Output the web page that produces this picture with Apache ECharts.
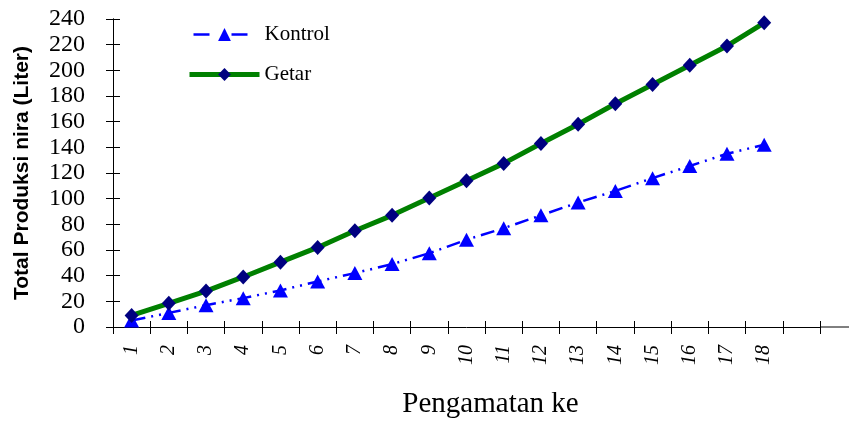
<!DOCTYPE html>
<html>
<head>
<meta charset="utf-8">
<script src="https://cdn.jsdelivr.net/npm/echarts@6/dist/echarts.min.js"></script>
<style>
  html, body { margin: 0; padding: 0; background: #fff; }
  #chart { width: 849px; height: 421px; }
</style>
</head>
<body>
<div id="chart"></div>
<script>
// data
var categories = ['1','2','3','4','5','6','7','8','9','10','11','12','13','14','15','16','17','18',''];
var kontrol = [5, 11, 17, 22.5, 28.5, 35.5, 42, 49, 57.5, 68, 77, 87, 97, 106, 116, 125.5, 135, 142];
var getar = [9, 18.5, 28, 39, 50.5, 62, 75, 87, 100.5, 114, 127.5, 143, 158, 174, 189, 204, 219, 237];
var yTicks = { min: 0, max: 240, interval: 20 };

var serif = 'Liberation Serif';
var myChart = echarts.init(document.getElementById('chart'));

var yBase = {
  type: 'value',
  min: yTicks.min,
  max: yTicks.max,
  interval: yTicks.interval,
  splitLine: { show: false },
  axisLine: { show: true, lineStyle: { color: '#000', width: 1 } }
};

var option = {
  backgroundColor: '#fff',
  animation: false,
  grid: { left: 113, top: 19, right: 29, bottom: 94, outerBoundsMode: 'none', containLabel: false },
  legend: {
    orient: 'vertical',
    left: 182,
    top: 19,
    itemWidth: 70,
    itemHeight: 16,
    itemGap: 19,
    textStyle: { fontFamily: serif, fontSize: 21, color: '#000' },
    data: [
      { name: 'Kontrol', lineStyle: { width: 2.5, type: [16, 22] , dashOffset: -4} },
      { name: 'Getar', lineStyle: { width: 5 } }
    ]
  },
  xAxis: [{
    type: 'category',
    data: categories,
    boundaryGap: true,
    name: 'Pengamatan ke',
    nameLocation: 'middle',
    nameGap: 63,
    nameTextStyle: { fontFamily: serif, fontSize: 29, color: '#000', padding: [0, 0, 0, 48] },
    axisLine: { show: true, onZero: false, lineStyle: { color: '#000', width: 1 } },
    axisTick: { show: true, length: 7, lineStyle: { color: '#000' } },
    axisLabel: {
      rotate: 90, margin: 18, fontFamily: serif, fontStyle: 'italic',
      fontSize: 20, color: '#000', interval: 0
    }
  }, {
    type: 'category',
    data: categories,
    position: 'bottom',
    boundaryGap: true,
    axisLine: { show: false },
    axisTick: { show: true, inside: true, length: 6, lineStyle: { color: '#000' } },
    axisLabel: { show: false }
  }],
  yAxis: [Object.assign({}, yBase, {
    name: 'Total Produksi nira (Liter)',
    nameLocation: 'middle',
    nameGap: 80,
    nameTextStyle: { fontFamily: 'Liberation Sans', fontWeight: 'bold', fontSize: 21, color: '#000' },
    axisTick: { show: true, length: 7, lineStyle: { color: '#000' } },
    axisLabel: { margin: 28, fontFamily: serif, fontSize: 24, color: '#000' }
  }), Object.assign({}, yBase, {
    position: 'left',
    axisTick: { show: true, inside: true, length: 7, lineStyle: { color: '#000' } },
    axisLabel: { show: false }
  })],
  graphic: [{
    type: 'line',
    shape: { x1: 820, y1: 327, x2: 849, y2: 327 },
    style: { stroke: '#000', lineWidth: 1 }
  }],
  series: [{
    name: 'Kontrol',
    type: 'line',
    data: kontrol,
    symbol: 'triangle',
    symbolSize: [15, 14],
    itemStyle: { color: '#0000ff' },
    lineStyle: { color: '#0000ff', width: 2.5, type: [14, 6, 2, 6, 2, 6] },
    z: 2
  }, {
    name: 'Getar',
    type: 'line',
    data: getar,
    symbol: 'diamond',
    symbolSize: [14, 15],
    itemStyle: { color: '#000080' },
    lineStyle: { color: '#008000', width: 5 },
    z: 3
  }]
};

myChart.setOption(option);
</script>
</body>
</html>
